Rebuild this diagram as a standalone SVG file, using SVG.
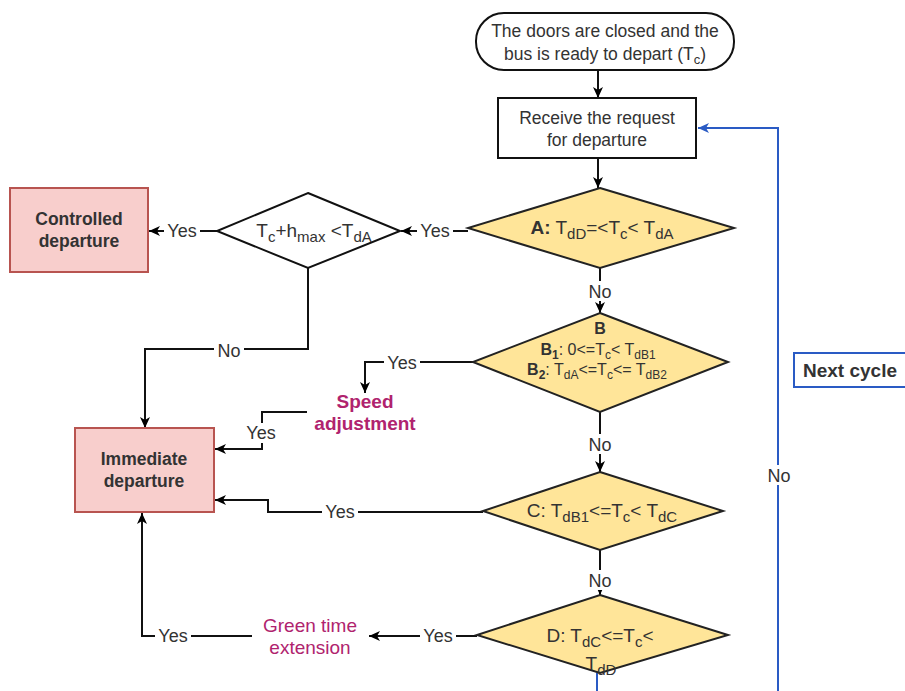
<svg xmlns="http://www.w3.org/2000/svg" width="905" height="691" viewBox="0 0 905 691">
<defs>
<marker id="ah" markerUnits="userSpaceOnUse" markerWidth="12" markerHeight="12" viewBox="0 0 12 12" refX="11" refY="6" orient="auto">
<path d="M0,1 L11,6 L0,11 L3,6 z" fill="#000"/>
</marker>
<marker id="ahb" markerUnits="userSpaceOnUse" markerWidth="12" markerHeight="12" viewBox="0 0 12 12" refX="11" refY="6" orient="auto">
<path d="M0,1 L11,6 L0,11 L3,6 z" fill="#2a5bc4"/>
</marker>
<style>
text{font-family:"Liberation Sans",Arial,sans-serif;fill:#333;}
.t{font-size:17.5px;text-anchor:middle;}
.d{font-size:19px;text-anchor:middle;}
.b{font-weight:bold;}
.lbl{font-size:18px;text-anchor:middle;}
.pur{fill:#b0236e;font-size:19px;text-anchor:middle;}
.c{fill:none;stroke:#111;stroke-width:2;marker-end:url(#ah);}
.blue{fill:none;stroke:#2a5bc4;stroke-width:2;}
.dia{fill:#ffe599;stroke:#222;stroke-width:2;}
.pink{fill:#f8cecc;stroke:#b85450;stroke-width:2;}
.bg{fill:#fff;}
</style>
</defs>
<rect width="905" height="691" fill="#fff"/>

<g id="connectors">
<line class="c" x1="598" y1="70" x2="598" y2="98"/>
<line class="c" x1="598" y1="158" x2="598" y2="188"/>
<line class="c" x1="468" y1="231" x2="401" y2="231"/>
<line class="c" x1="217" y1="231" x2="149" y2="231"/>
<polyline class="c" points="308,268 308,349 145,349 145,428"/>
<line class="c" x1="600" y1="268" x2="600" y2="313"/>
<polyline class="c" points="473,362 365,362 365,393"/>
<polyline class="c" points="307,412 262,412 262,449 215,449"/>
<line class="c" x1="600" y1="412" x2="600" y2="472"/>
<polyline class="c" points="483,512 268,512 268,500 215,500"/>
<line class="c" x1="600" y1="550" x2="600" y2="595"/>
<line class="c" x1="477" y1="636" x2="369" y2="636"/>
<polyline class="c" points="252,636 142,636 142,513"/>
<line class="blue" x1="597" y1="673" x2="597" y2="691"/>
<polyline class="blue" points="778,691 778,128 698,128" style="marker-end:url(#ahb)"/>
<g id="labels">
<rect class="bg" x="417" y="221" width="36" height="20"/><text class="lbl" x="435" y="237">Yes</text>
<rect class="bg" x="164" y="221" width="36" height="20"/><text class="lbl" x="182" y="237">Yes</text>
<rect class="bg" x="214" y="340" width="30" height="20"/><text class="lbl" x="229" y="357">No</text>
<rect class="bg" x="585" y="281" width="30" height="20"/><text class="lbl" x="600" y="298">No</text>
<rect class="bg" x="384" y="353" width="36" height="20"/><text class="lbl" x="402" y="369">Yes</text>
<rect class="bg" x="243" y="423" width="36" height="20"/><text class="lbl" x="261" y="439">Yes</text>
<rect class="bg" x="585" y="434" width="30" height="20"/><text class="lbl" x="600" y="451">No</text>
<rect class="bg" x="322" y="502" width="36" height="20"/><text class="lbl" x="340" y="518">Yes</text>
<rect class="bg" x="585" y="570" width="30" height="20"/><text class="lbl" x="600" y="587">No</text>
<rect class="bg" x="420" y="626" width="36" height="20"/><text class="lbl" x="438" y="642">Yes</text>
<rect class="bg" x="155" y="626" width="36" height="20"/><text class="lbl" x="173" y="642">Yes</text>
<rect class="bg" x="764" y="465" width="30" height="20"/><text class="lbl" x="779" y="482">No</text>
</g>
</g>

<g id="start">
<rect x="476" y="13" width="258" height="57" rx="28" ry="28" fill="#fff" stroke="#111" stroke-width="2"/>
<text class="t" x="605" y="37">The doors are closed and the</text>
<text class="t" x="605" y="60">bus is ready to depart (T<tspan font-size="13" dy="4">c</tspan><tspan dy="-4">)</tspan></text>
</g>

<g id="receive">
<rect x="498" y="98" width="198" height="60" fill="#fff" stroke="#111" stroke-width="2"/>
<text class="t" x="597" y="124">Receive the request</text>
<text class="t" x="597" y="146">for departure</text>
</g>

<g id="decisionA">
<polygon class="dia" points="600,188 734,228 600,268 468,228"/>
<text class="d" x="602" y="234"><tspan class="b">A:</tspan> T<tspan font-size="15" dy="5">dD</tspan><tspan dy="-5">=&lt;T</tspan><tspan font-size="15" dy="5">c</tspan><tspan dy="-5">&lt; T</tspan><tspan font-size="15" dy="5">dA</tspan></text>
</g>

<g id="decisionH">
<polygon points="308,193 400,231 308,268 217,231" fill="#fff" stroke="#111" stroke-width="2"/>
<text class="d" x="314" y="237">T<tspan font-size="15" dy="5">c</tspan><tspan dy="-5">+h</tspan><tspan font-size="15" dy="5">max</tspan><tspan dy="-5"> &lt;T</tspan><tspan font-size="15" dy="5">dA</tspan></text>
</g>

<g id="controlled">
<rect class="pink" x="10" y="188" width="138" height="84"/>
<text class="t b" x="79" y="225">Controlled</text>
<text class="t b" x="79" y="247">departure</text>
</g>

<g id="immediate">
<rect class="pink" x="75" y="428" width="139" height="84"/>
<text class="t b" x="144" y="465">Immediate</text>
<text class="t b" x="144" y="487">departure</text>
</g>

<g id="decisionB">
<polygon class="dia" points="600,313 728,362 600,412 473,362"/>
<text class="b" x="600" y="334" font-size="16" text-anchor="middle">B</text>
<text x="598" y="355" font-size="16" text-anchor="middle"><tspan class="b">B</tspan><tspan class="b" font-size="12" dy="4">1</tspan><tspan dy="-4">: 0&lt;=T</tspan><tspan font-size="12" dy="4">c</tspan><tspan dy="-4">&lt; T</tspan><tspan font-size="12" dy="4">dB1</tspan></text>
<text x="597" y="375" font-size="16" text-anchor="middle"><tspan class="b">B</tspan><tspan class="b" font-size="12" dy="4">2</tspan><tspan dy="-4">: T</tspan><tspan font-size="12" dy="4">dA</tspan><tspan dy="-4">&lt;=T</tspan><tspan font-size="12" dy="4">c</tspan><tspan dy="-4">&lt;= T</tspan><tspan font-size="12" dy="4">dB2</tspan></text>
</g>

<g id="speed">
<text class="pur b" x="365" y="408">Speed</text>
<text class="pur b" x="365" y="430">adjustment</text>
</g>

<g id="decisionC">
<polygon class="dia" points="600,472 723,511 600,550 483,511"/>
<text class="d" x="602" y="517">C: T<tspan font-size="15" dy="5">dB1</tspan><tspan dy="-5">&lt;=T</tspan><tspan font-size="15" dy="5">c</tspan><tspan dy="-5">&lt; T</tspan><tspan font-size="15" dy="5">dC</tspan></text>
</g>

<g id="decisionD">
<polygon class="dia" points="600,595 728,635 600,673 477,635"/>
<text class="d" x="600" y="642">D: T<tspan font-size="15" dy="5">dC</tspan><tspan dy="-5">&lt;=T</tspan><tspan font-size="15" dy="5">c</tspan><tspan dy="-5">&lt;</tspan></text>
<text class="d" x="601" y="670">T<tspan font-size="15" dy="5">dD</tspan></text>
</g>

<g id="green">
<text class="pur" x="310" y="632">Green time</text>
<text class="pur" x="310" y="654">extension</text>
</g>

<g id="nextcycle">
<rect x="794" y="353" width="130" height="34" fill="#fff" stroke="#2a5bc4" stroke-width="2"/>
<text class="b" x="803" y="377" font-size="19">Next cycle</text>
</g>
</svg>
